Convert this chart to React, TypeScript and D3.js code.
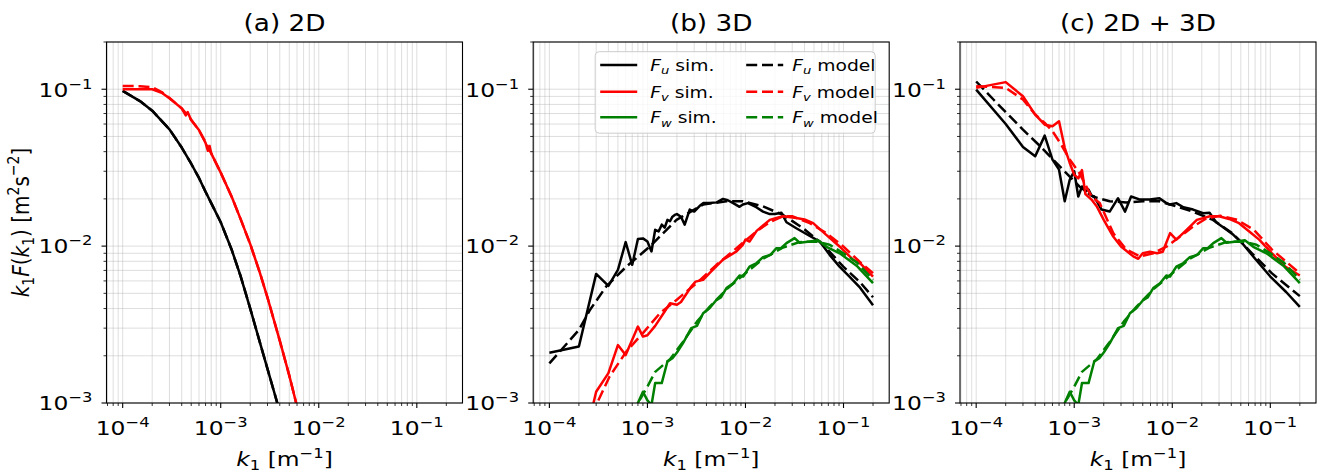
import React from 'react';
import * as d3 from 'd3';

// ---------------- DATA ----------------
// (a) 2D
const aFuK = [1e-4,1.5e-4,2e-4,3e-4,4e-4,5e-4,6e-4,7e-4,8e-4,1e-3,1.3e-3,1.6e-3,2e-3,2.5e-3,3e-3,3.5e-3,4e-3,4.5e-3];
const aFuSim = [0.0975,0.084,0.073,0.0555,0.0425,0.0335,0.0272,0.0222,0.0188,0.0142,0.0094,0.0064,0.0040,0.00245,0.00165,0.00118,0.00088,0.00068];
const aFuModel = [0.0975,0.084,0.073,0.0555,0.0425,0.0335,0.0272,0.0222,0.0188,0.0142,0.0094,0.0064,0.0040,0.00245,0.00165,0.00118,0.00088,0.00068];
const aFvSimK = [1e-4,1.5e-4,2e-4,2.5e-4,3e-4,4e-4,4.4e-4,4.6e-4,5e-4,6e-4,7e-4,7.4e-4,7.7e-4,8e-4,1e-3,1.3e-3,1.6e-3,2e-3,2.5e-3,3e-3,4e-3,5e-3,6e-3,7e-3];
const aFvSim = [0.100,0.100,0.100,0.095,0.0875,0.0755,0.068,0.0715,0.0635,0.0550,0.0455,0.0405,0.0435,0.039,0.0294,0.0205,0.0148,0.0103,0.0068,0.0047,0.0025,0.0015,0.00095,0.0006];
const aFvModelK = [1e-4,1.5e-4,2e-4,2.5e-4,3e-4,4e-4,5e-4,6e-4,7e-4,8e-4,1e-3,1.3e-3,1.6e-3,2e-3,2.5e-3,3e-3,4e-3,5e-3,6e-3,7e-3];
const aFvModel = [0.105,0.1045,0.103,0.096,0.088,0.0755,0.064,0.0548,0.046,0.039,0.0294,0.0205,0.0148,0.0103,0.0068,0.0047,0.0025,0.0015,0.00095,0.0006];

// (b) 3D
const bFuSimK = [1e-4,2e-4,3e-4,4e-4,5e-4,6e-4,7e-4,8e-4,9e-4,1e-3,1.1e-3,1.2e-3,1.3e-3,1.4e-3,1.5e-3,1.6e-3,1.7e-3,1.8e-3,1.9e-3,2e-3,2.2e-3,2.4e-3,2.7e-3,3e-3,3.4e-3,3.7e-3,4.3e-3,5.1e-3,5.9e-3,6.6e-3,7.5e-3,8.7e-3,9.4e-3,1.06e-2,1.29e-2,1.51e-2,1.77e-2,1.99e-2,2.33e-2,2.62e-2,3.3e-2,4.53e-2,5.73e-2,7.22e-2,9.11e-2,0.115,0.145,0.2];
const bFuSim = [0.00209,0.00229,0.00665,0.00558,0.00706,0.0106,0.0076,0.0111,0.0112,0.0107,0.00925,0.0127,0.0124,0.0137,0.0131,0.0147,0.0144,0.0154,0.0158,0.0160,0.0154,0.0137,0.0171,0.0166,0.0180,0.0188,0.0188,0.0190,0.0200,0.0196,0.0188,0.0178,0.0184,0.0188,0.0177,0.0166,0.0160,0.0160,0.0163,0.0142,0.0130,0.0116,0.0107,0.0088,0.0074,0.0064,0.0055,0.0042];
const bFuModelK = [1e-4,2e-4,2.6e-4,3.8e-4,6.1e-4,1.06e-3,1.98e-3,3.7e-3,6.4e-3,9.4e-3,1.51e-2,2.42e-2,3.87e-2,6.2e-2,9.95e-2,0.147,0.2];
const bFuModel = [0.00179,0.00292,0.00393,0.00553,0.0074,0.00995,0.0147,0.0184,0.0193,0.0193,0.0179,0.0158,0.0130,0.0102,0.0074,0.0059,0.00472];
const bFvSimK = [2e-4,3e-4,4e-4,5e-4,6e-4,8e-4,9e-4,1e-3,1.2e-3,1.5e-3,1.7e-3,2e-3,2.2e-3,2.8e-3,3.1e-3,3.7e-3,4.3e-3,5.9e-3,8.1e-3,9.4e-3,1e-2,1.1e-2,1.3e-2,1.77e-2,2.07e-2,2.42e-2,3.3e-2,4e-2,4.9e-2,6.67e-2,9.11e-2,0.125,0.15,0.2];
const bFvSim = [0.0004,0.00118,0.00155,0.00234,0.00202,0.00307,0.00265,0.0027,0.0031,0.00383,0.00432,0.00423,0.0044,0.00553,0.00594,0.0061,0.00673,0.0082,0.00925,0.0102,0.0110,0.0107,0.0125,0.0147,0.0151,0.0155,0.0151,0.0148,0.0140,0.0118,0.00995,0.0082,0.0077,0.0064];
const bFvModelK = [2e-4,3e-4,4.1e-4,6.1e-4,9e-4,1.34e-3,1.98e-3,3.17e-3,5.06e-3,8.1e-3,1.29e-2,1.77e-2,2.42e-2,3e-2,4.53e-2,6.67e-2,9.95e-2,0.145,0.2];
const bFvModel = [0.00055,0.00097,0.00147,0.00213,0.00279,0.00373,0.00454,0.0058,0.0076,0.0097,0.0124,0.0142,0.0155,0.0155,0.0140,0.0121,0.00995,0.00798,0.00673];
const FwSimK = [7e-4,8e-4,9e-4,1e-3,1.1e-3,1.2e-3,1.4e-3,1.6e-3,1.8e-3,2e-3,2.3e-3,2.8e-3,3.2e-3,3.7e-3,4.3e-3,5e-3,5.6e-3,6.4e-3,7.5e-3,8.7e-3,9.5e-3,1.1e-2,1.3e-2,1.51e-2,1.8e-2,2.07e-2,2.3e-2,2.62e-2,3.17e-2,3.57e-2,4.53e-2,5.5e-2,6.7e-2,9.15e-2,0.136,0.2];
const FwSim = [0.0008,0.00100,0.00118,0.00104,0.00097,0.00134,0.00134,0.00184,0.00193,0.0021,0.0024,0.0030,0.0031,0.00373,0.00402,0.0045,0.0047,0.0054,0.0058,0.0065,0.0064,0.0074,0.0078,0.0085,0.0088,0.0097,0.0097,0.01045,0.01125,0.0105,0.0107,0.0109,0.0099,0.0090,0.0075,0.0058];
const FwModelK = [7e-4,8e-4,1e-3,1.2e-3,1.7e-3,2.3e-3,3.2e-3,4.3e-3,6.4e-3,9.4e-3,1.51e-2,2.42e-2,3.55e-2,5.27e-2,7.22e-2,9.95e-2,0.136,0.2];
const FwModel = [0.00085,0.001,0.00127,0.00158,0.0019,0.00245,0.0033,0.0041,0.0053,0.0065,0.0083,0.0098,0.0106,0.0107,0.0102,0.009,0.0079,0.0061];

// (c) 2D + 3D
const cFuSimK = [1e-4,2e-4,3e-4,4e-4,5e-4,6e-4,7e-4,8e-4,9e-4,1e-3,1.1e-3,1.2e-3,1.3e-3,1.4e-3,1.5e-3,1.6e-3,1.9e-3,2.3e-3,2.8e-3,3.3e-3,3.8e-3,4.7e-3,5.9e-3,7.4e-3,8.5e-3,9.4e-3,1.1e-2,1.3e-2,1.63e-2,2.07e-2,2.4e-2,2.8e-2,3.3e-2,4.2e-2,5.2e-2,7e-2,0.1,0.145,0.2];
const cFuSim = [0.0995,0.060,0.0429,0.0374,0.0506,0.0356,0.0307,0.0193,0.0265,0.030,0.0207,0.024,0.0223,0.0229,0.021,0.0207,0.0171,0.0166,0.0202,0.0166,0.0207,0.0198,0.0198,0.0202,0.019,0.0184,0.0188,0.0177,0.0171,0.0162,0.0163,0.0142,0.0132,0.0118,0.0104,0.0083,0.0064,0.0051,0.0041];
const cFuModelK = [1e-4,1.5e-4,2.2e-4,3e-4,4.5e-4,6.1e-4,8.3e-4,1.13e-3,1.55e-3,2.3e-3,3.4e-3,5e-3,7.4e-3,1.1e-2,1.62e-2,2.6e-2,4.1e-2,6.5e-2,0.104,0.2];
const cFuModel = [0.112,0.086,0.0673,0.0553,0.0433,0.0356,0.0292,0.024,0.0207,0.0193,0.019,0.0193,0.0193,0.0179,0.0166,0.0147,0.0121,0.009,0.0067,0.0048];
const cFvSimK = [1e-4,2e-4,3e-4,4e-4,5e-4,6e-4,7e-4,8e-4,9e-4,1e-3,1.1e-3,1.2e-3,1.3e-3,1.5e-3,1.7e-3,2e-3,2.5e-3,3e-3,4e-3,4.5e-3,5e-3,5.9e-3,7e-3,8e-3,9.5e-3,1.1e-2,1.4e-2,1.78e-2,2.42e-2,3e-2,3.8e-2,4.8e-2,6.1e-2,7.7e-2,0.104,0.142,0.2];
const cFvSim = [0.102,0.111,0.0902,0.0689,0.0594,0.058,0.0625,0.0423,0.0339,0.0285,0.027,0.0305,0.0215,0.0198,0.0179,0.0147,0.0115,0.00995,0.0086,0.0083,0.009,0.0092,0.009,0.0092,0.0121,0.011,0.0127,0.0147,0.0155,0.0155,0.0149,0.014,0.0124,0.011,0.009,0.0074,0.0065];
const cFvModelK = [1e-4,2e-4,3e-4,4e-4,5e-4,6e-4,7.2e-4,9e-4,1.13e-3,1.5e-3,1.82e-3,2.5e-3,3.4e-3,4.66e-3,6.4e-3,8.8e-3,1.2e-2,1.65e-2,2.26e-2,3.1e-2,4.6e-2,6.8e-2,0.104,0.2];
const cFvModel = [0.1045,0.102,0.086,0.069,0.061,0.054,0.0454,0.0356,0.0292,0.0207,0.0188,0.0121,0.0095,0.0086,0.009,0.00995,0.0115,0.0134,0.0151,0.0156,0.0147,0.0127,0.0095,0.0067];

// ticks
const xMajorTicks = [1e-4, 1e-3, 1e-2, 1e-1];
const xTickExponents = ['−4', '−3', '−2', '−1'];
const yMajorTicks = [1e-3, 1e-2, 1e-1];
const yTickExponents = ['−3', '−2', '−1'];
const titles = ['(a) 2D', '(b) 3D', '(c) 2D + 3D'];

// ---------------- LAYOUT ----------------
const W = 1333, H = 475;
const FONT = "'DejaVu Sans', sans-serif";
const panelLefts = [106.5, 533.2, 960];
const PW = 356;
const TOP = 42, BOTTOM = 403;
const SX = 1.17; // horizontal text stretch of the original picture
const TICK_FS = 20, TITLE_FS = 22.5, LABEL_FS = 20, LEG_FS = 16;
const LW = 2.5;
const DASH = '11,4.8';
const GREEN = '#008000';

type Seg = { t: string; i?: boolean; sub?: boolean; sup?: boolean };

function rich(segs: Seg[], fs: number) {
  let cur = 0;
  return segs.map((s, idx) => {
    const target = s.sub ? 0.22 * fs : s.sup ? -0.4 * fs : 0;
    const dy = target - cur;
    cur = target;
    return (
      <tspan key={idx} dy={dy} fontSize={s.sub || s.sup ? fs * 0.7 : fs} fontStyle={s.i ? 'italic' : 'normal'}>
        {s.t}
      </tspan>
    );
  });
}

function SText({ x, y, anchor, fs, children }: { x: number; y: number; anchor: string; fs: number; children: any }) {
  return (
    <g transform={`translate(${x},${y}) scale(${SX},1)`}>
      <text x={0} y={0} textAnchor={anchor} fontFamily={FONT} fontSize={fs} fill="black">
        {children}
      </text>
    </g>
  );
}

function minorTicks(domain: number[]) {
  const out: number[] = [];
  for (let e = -6; e <= 1; e++) {
    for (let m = 2; m <= 9; m++) {
      const v = m * Math.pow(10, e);
      if (v >= domain[0] * 0.9999 && v <= domain[1] * 1.0001) out.push(v);
    }
  }
  return out;
}

type Series = { k: number[]; v: number[]; color: string; dashed: boolean };

function zip(k: number[], v: number[]) {
  const n = Math.min(k.length, v.length);
  const out: [number, number][] = [];
  for (let i = 0; i < n; i++) out.push([k[i], v[i]]);
  return out;
}

const panelSeries: Series[][] = [
  [
    { k: aFuK, v: aFuSim, color: 'black', dashed: false },
    { k: aFuK, v: aFuModel, color: 'black', dashed: true },
    { k: aFvSimK, v: aFvSim, color: 'red', dashed: false },
    { k: aFvModelK, v: aFvModel, color: 'red', dashed: true },
  ],
  [
    { k: bFuSimK, v: bFuSim, color: 'black', dashed: false },
    { k: bFuModelK, v: bFuModel, color: 'black', dashed: true },
    { k: bFvSimK, v: bFvSim, color: 'red', dashed: false },
    { k: bFvModelK, v: bFvModel, color: 'red', dashed: true },
    { k: FwSimK, v: FwSim, color: GREEN, dashed: false },
    { k: FwModelK, v: FwModel, color: GREEN, dashed: true },
  ],
  [
    { k: cFuSimK, v: cFuSim, color: 'black', dashed: false },
    { k: cFuModelK, v: cFuModel, color: 'black', dashed: true },
    { k: cFvSimK, v: cFvSim, color: 'red', dashed: false },
    { k: cFvModelK, v: cFvModel, color: 'red', dashed: true },
    { k: FwSimK, v: FwSim, color: GREEN, dashed: false },
    { k: FwModelK, v: FwModel, color: GREEN, dashed: true },
  ],
];

const legendItems: { comp: string; kind: string; color: string; dashed: boolean }[] = [
  { comp: 'u', kind: ' sim.', color: 'black', dashed: false },
  { comp: 'v', kind: ' sim.', color: 'red', dashed: false },
  { comp: 'w', kind: ' sim.', color: GREEN, dashed: false },
  { comp: 'u', kind: ' model', color: 'black', dashed: true },
  { comp: 'v', kind: ' model', color: 'red', dashed: true },
  { comp: 'w', kind: ' model', color: GREEN, dashed: true },
];

function Panel({ idx }: { idx: number }) {
  const left = panelLefts[idx];
  const right = left + PW;
  const x = d3.scaleLog().domain([Math.pow(10, -4.165), Math.pow(10, -0.534)]).range([left, right]);
  const y = d3.scaleLog().domain([1e-3, 0.2]).range([BOTTOM, TOP]);
  const xMinor = minorTicks(x.domain());
  const yMinor = minorTicks(y.domain());
  const line = d3.line<[number, number]>().x((d) => x(d[0])).y((d) => y(d[1]));
  const clipId = `clip${idx}`;
  const gridColor = '#b0b0b0';
  const cx = (left + right) / 2;
  return (
    <g>
      <defs>
        <clipPath id={clipId}>
          <rect x={left} y={TOP} width={PW} height={BOTTOM - TOP} />
        </clipPath>
      </defs>
      <g stroke={gridColor} strokeOpacity={0.42} strokeWidth={1}>
        {[...xMajorTicks, ...xMinor].map((t, i) => (
          <line key={'gx' + i} x1={x(t)} x2={x(t)} y1={TOP} y2={BOTTOM} />
        ))}
        {[...yMajorTicks, ...yMinor].map((t, i) => (
          <line key={'gy' + i} x1={left} x2={right} y1={y(t)} y2={y(t)} />
        ))}
      </g>
      <g clipPath={`url(#${clipId})`} fill="none">
        {panelSeries[idx].map((s, i) => (
          <path
            key={i}
            d={line(zip(s.k, s.v)) || ''}
            stroke={s.color}
            strokeWidth={LW}
            strokeDasharray={s.dashed ? DASH : undefined}
            strokeLinejoin="round"
          />
        ))}
      </g>
      <rect x={left} y={TOP} width={PW} height={BOTTOM - TOP} fill="none" stroke="black" strokeWidth={1.1} />
      <g stroke="black" strokeWidth={1.1}>
        {xMajorTicks.map((t, i) => (
          <line key={'xt' + i} x1={x(t)} x2={x(t)} y1={BOTTOM} y2={BOTTOM + 5} />
        ))}
        {xMinor.map((t, i) => (
          <line key={'xm' + i} x1={x(t)} x2={x(t)} y1={BOTTOM} y2={BOTTOM + 3} strokeWidth={0.8} />
        ))}
        {yMajorTicks.map((t, i) => (
          <line key={'yt' + i} x1={left - 5} x2={left} y1={y(t)} y2={y(t)} />
        ))}
        {yMinor.map((t, i) => (
          <line key={'ym' + i} x1={left - 3} x2={left} y1={y(t)} y2={y(t)} strokeWidth={0.8} />
        ))}
      </g>
      {xMajorTicks.map((t, i) => (
        <SText key={'xl' + i} x={x(t)} y={BOTTOM + 32} anchor="middle" fs={TICK_FS}>
          <tspan>10</tspan>
          <tspan dy={-0.4 * TICK_FS} fontSize={TICK_FS * 0.7}>{xTickExponents[i]}</tspan>
        </SText>
      ))}
      {yMajorTicks.map((t, i) => (
        <SText key={'yl' + i} x={left - 14} y={y(t) + 7.3} anchor="end" fs={TICK_FS}>
          <tspan>10</tspan>
          <tspan dy={-0.4 * TICK_FS} fontSize={TICK_FS * 0.7}>{yTickExponents[i]}</tspan>
        </SText>
      ))}
      <SText x={cx} y={30.5} anchor="middle" fs={TITLE_FS}>
        {titles[idx]}
      </SText>
      <SText x={cx} y={466} anchor="middle" fs={LABEL_FS}>
        {rich(
          [
            { t: 'k', i: true },
            { t: '1', sub: true },
            { t: ' [m' },
            { t: '−1', sup: true },
            { t: ']' },
          ],
          LABEL_FS
        )}
      </SText>
      {idx === 0 && (
        <g transform={`translate(28.5, ${(TOP + BOTTOM) / 2}) scale(${SX},1) rotate(-90)`}>
          <text x={0} y={0} textAnchor="middle" fontFamily={FONT} fontSize={LABEL_FS}>
            {rich(
              [
                { t: 'k', i: true },
                { t: '1', sub: true },
                { t: 'F', i: true },
                { t: '(' },
                { t: 'k', i: true },
                { t: '1', sub: true },
                { t: ') [m' },
                { t: '2', sup: true },
                { t: 's' },
                { t: '−2', sup: true },
                { t: ']' },
              ],
              LABEL_FS
            )}
          </text>
        </g>
      )}
      {idx === 1 && <Legend left={left} right={right} />}
    </g>
  );
}

function Legend({ left, right }: { left: number; right: number }) {
  const bx = left + 62;
  const bw = right - 14 - bx;
  const by = TOP + 9.7;
  const bh = 81.5;
  const rowY = [65, 91.7, 117.3];
  const colHandle = [bx + 5, bx + 151];
  const handleLen = 37;
  const colText = [bx + 55, bx + 197];
  return (
    <g>
      <rect x={bx} y={by} width={bw} height={bh} rx={4} ry={4} fill="white" fillOpacity={0.8} stroke="#cccccc" strokeWidth={1} />
      {legendItems.map((it, i) => {
        const col = Math.floor(i / 3);
        const row = i % 3;
        const yy = rowY[row];
        return (
          <g key={i}>
            <line
              x1={colHandle[col]}
              x2={colHandle[col] + handleLen}
              y1={yy}
              y2={yy}
              stroke={it.color}
              strokeWidth={LW}
              strokeDasharray={it.dashed ? DASH : undefined}
            />
            <SText x={colText[col]} y={yy + 5.8} anchor="start" fs={LEG_FS}>
              {rich(
                [
                  { t: 'F', i: true },
                  { t: it.comp, i: true, sub: true },
                  { t: it.kind },
                ],
                LEG_FS
              )}
            </SText>
          </g>
        );
      })}
    </g>
  );
}

export default function App() {
  return (
    <svg
      width={W}
      height={H}
      viewBox={`0 0 ${W} ${H}`}
      style={{ position: 'absolute', left: 0, top: 0, background: 'white' }}
    >
      <rect x={0} y={0} width={W} height={H} fill="white" />
      {[0, 1, 2].map((i) => (
        <Panel key={i} idx={i} />
      ))}
    </svg>
  );
}
